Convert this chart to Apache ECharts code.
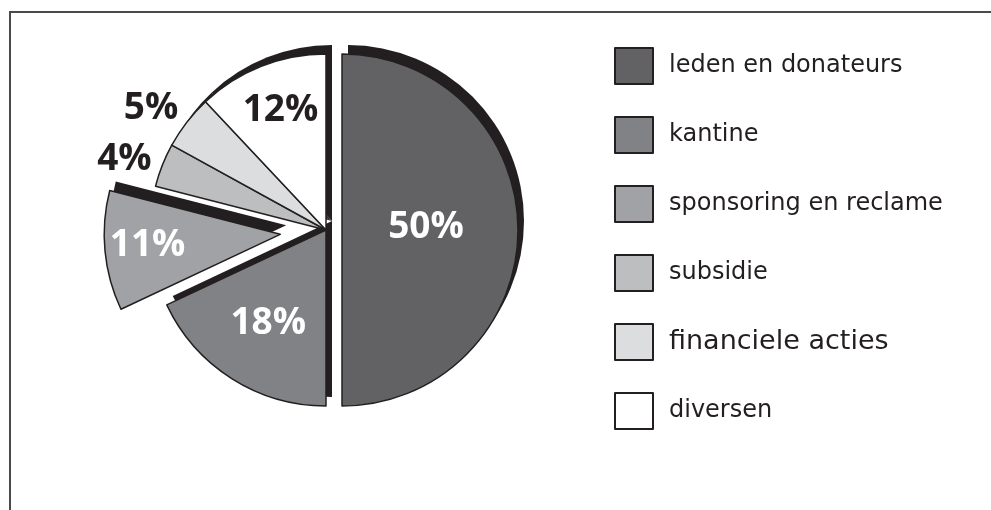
<!DOCTYPE html>
<html>
<head>
<meta charset="utf-8">
<title>Inkomsten vereniging</title>
<script src="https://cdn.jsdelivr.net/npm/echarts@6/dist/echarts.min.js"></script>
<style>
  html, body { margin: 0; padding: 0; background: #fff; }
  #chart { width: 991px; height: 510px; }
</style>
</head>
<body>
<div id="chart"></div>
<script>
  // data
  var categories = ['leden en donateurs', 'kantine', 'sponsoring en reclame', 'subsidie', 'financiele acties', 'diversen'];
  var values = [50, 18, 11, 4, 5, 12];

  // styling per slice
  var colors = ['#626265', '#808285', '#a1a2a5', '#bcbec0', '#dcdddf', '#ffffff'];
  var labelColors = ['#ffffff', '#ffffff', '#ffffff', '#231f20', '#231f20', '#231f20'];
  var labelShift = [[-7, -3], [-9, 17], [-42, 3], [-117, -37], [-103, -66], [-12, -35]];
  var ink = '#231f20';

  var pieCenter = [326, 230];
  var pieRadius = 176;
  var shadowShift = [6, -9];

  var chart = echarts.init(document.getElementById('chart'));

  // slice 2 (sponsoring) is pulled out further than slice 0, so it lives in its own series.
  // every visible pie also gets a black copy underneath, nudged up-right, as the drop edge.
  function buildData(visible, pulled, shadow) {
    return categories.map(function (name, i) {
      if (!visible(i)) {
        return {
          name: name, value: values[i],
          itemStyle: { color: 'transparent', borderWidth: 0 },
          label: { show: false }
        };
      }
      return {
        name: name, value: values[i], selected: pulled(i),
        itemStyle: shadow ? { color: ink, borderWidth: 0 } : { color: colors[i] },
        label: shadow ? { show: false } : { color: labelColors[i] }
      };
    });
  }

  function pieSeries(data, offset, shadow) {
    return {
      type: 'pie',
      center: shadow ? [pieCenter[0] + shadowShift[0], pieCenter[1] + shadowShift[1]] : pieCenter,
      radius: pieRadius,
      startAngle: 90,
      clockwise: true,
      selectedMode: 'multiple',
      selectedOffset: offset,
      avoidLabelOverlap: false,
      animation: false,
      silent: true,
      z: shadow ? 1 : 2,
      emphasis: { disabled: true },
      itemStyle: { borderColor: ink, borderWidth: 1.5 },
      label: {
        position: 'inside',
        fontFamily: 'Open Sans',
        fontWeight: 'bold',
        fontSize: 37,
        formatter: function (p) { return p.value + '%'; }
      },
      labelLine: { show: false },
      labelLayout: function (p) {
        var s = labelShift[p.dataIndex];
        return { dx: s[0], dy: s[1] };
      },
      data: data
    };
  }

  var isMain = function (i) { return i !== 2; };
  var isSponsor = function (i) { return i === 2; };
  var pullMain = function (i) { return i === 0; };

  chart.setOption({
    animation: false,
    graphic: [{
      type: 'polyline',
      shape: { points: [[10, 510], [10, 12], [991, 12]] },
      style: { stroke: '#4a4a4a', lineWidth: 2, fill: null }
    }],
    legend: {
      orient: 'vertical',
      left: 614,
      top: 47,
      padding: 0,
      itemWidth: 38,
      itemHeight: 36,
      itemGap: 31,
      selectedMode: false,
      icon: 'rect',
      itemStyle: { borderColor: ink, borderWidth: 2 },
      textStyle: {
        fontFamily: 'DejaVu Sans',
        fontSize: 24,
        color: ink,
        padding: [0, 0, 0, 11]
      },
      data: categories.map(function (name, i) {
        var item = { name: name, itemStyle: { color: colors[i] } };
        if (name === 'financiele acties') item.textStyle = { fontSize: 27 };
        return item;
      })
    },
    series: [
      pieSeries(buildData(isMain, pullMain, true), 16, true),
      pieSeries(buildData(isSponsor, isSponsor, true), 46, true),
      pieSeries(buildData(isMain, pullMain, false), 16, false),
      pieSeries(buildData(isSponsor, isSponsor, false), 46, false)
    ]
  });
</script>
</body>
</html>
